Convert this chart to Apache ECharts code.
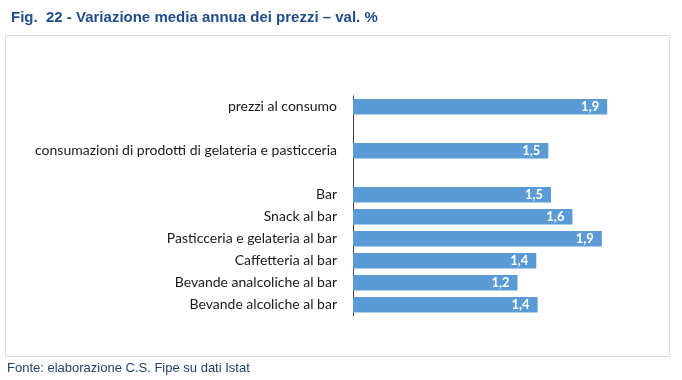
<!DOCTYPE html>
<html>
<head>
<meta charset="utf-8">
<script src="https://cdn.jsdelivr.net/npm/echarts@6/dist/echarts.min.js"></script>
<style>
html,body{margin:0;padding:0;background:#fff;}
#chart{width:682px;height:380px;}
</style>
</head>
<body>
<div id="chart"></div>
<script>
// Categories (top to bottom); blank strings are spacer slots
var categories = [
  "prezzi al consumo",
  " ",
  "consumazioni di prodotti di gelateria e pasticceria",
  "  ",
  "Bar",
  "Snack al bar",
  "Pasticceria e gelateria al bar",
  "Caffetteria al bar",
  "Bevande analcoliche al bar",
  "Bevande alcoliche al bar"
];
// Annual average price change (%)
var values = [1.90, null, 1.46, null, 1.48, 1.64, 1.86, 1.37, 1.23, 1.38];

var titleText = "Fig.  22 - Variazione media annua dei prezzi \u2013 val. %";
var sourceText = "Fonte: elaborazione C.S. Fipe su dati Istat";

var chart = echarts.init(document.getElementById('chart'));
chart.setOption({
  animation: false,
  title: {
    text: titleText,
    left: 6, top: 5,
    textStyle: {fontFamily: 'Liberation Sans', fontSize: 15, fontWeight: 'bold', color: '#1F4E8C'}
  },
  graphic: [
    {type: 'rect', shape: {x: 5.5, y: 35.5, width: 664, height: 321},
     style: {fill: 'none', stroke: '#D9D9D9', lineWidth: 1}, silent: true},
    {type: 'text', left: 7, top: 362,
     style: {text: sourceText, font: '13px "Liberation Sans"', fill: '#1F3F6E'}}
  ],
  grid: {left: 353, top: 95.8, height: 220, width: 267.6},
  xAxis: {
    type: 'value', min: 0, max: 2, show: false
  },
  yAxis: {
    type: 'category', inverse: true, data: categories,
    axisLine: {show: true, lineStyle: {color: '#404040', width: 1}},
    axisTick: {show: false},
    axisLabel: {fontFamily: 'Lato', fontSize: 14, color: '#1a1a1a', margin: 16}
  },
  series: [{
    type: 'bar',
    data: values.map(function(v){ return v == null ? '-' : v; }),
    barWidth: 15.5,
    itemStyle: {color: '#5B9BD5'},
    label: {
      show: true, position: 'insideRight', distance: 8,
      color: '#fff', fontFamily: 'Lato', fontWeight: 'bold', fontSize: 13,
      formatter: function(p){ return p.value.toFixed(1).replace('.', ','); }
    }
  }]
});
</script>
</body>
</html>
